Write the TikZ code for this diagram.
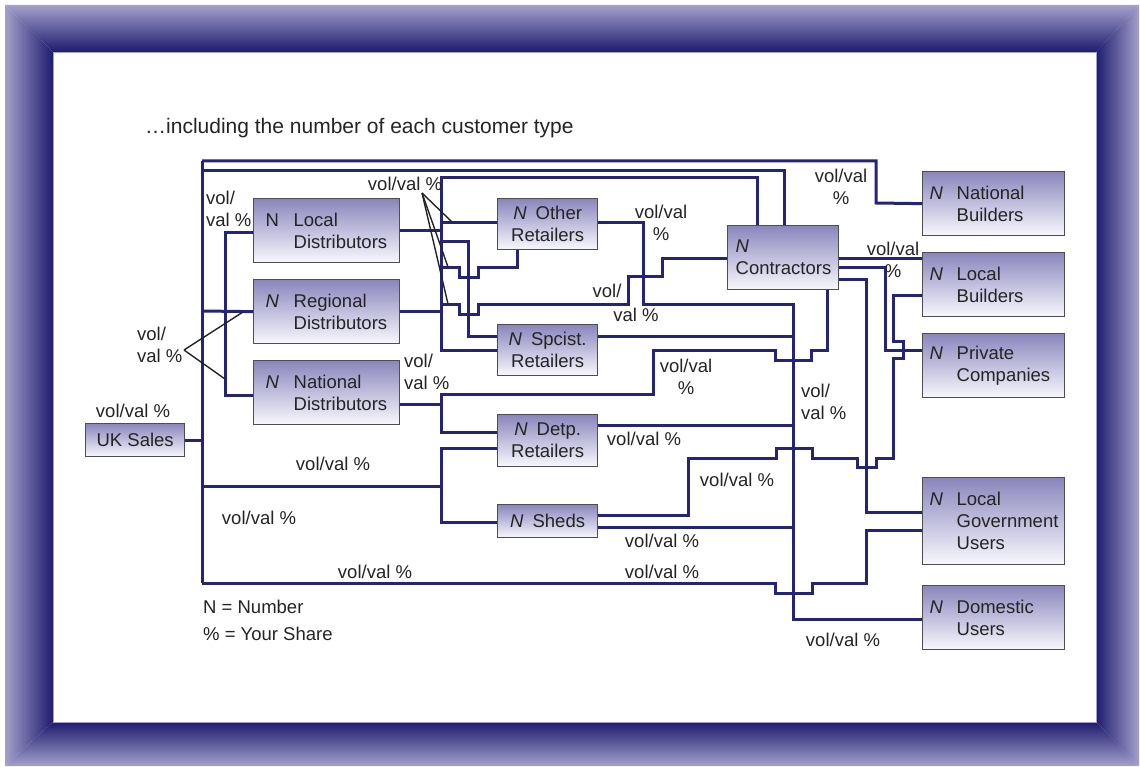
\documentclass[tikz,border=0pt]{standalone}
\usepackage{fontspec}
\setmainfont{Liberation Sans}
\definecolor{frL}{RGB}{164,160,204}
\definecolor{frD}{RGB}{30,28,110}
\definecolor{lineBlue}{RGB}{36,36,120}
\definecolor{boxTop}{RGB}{138,134,188}
\definecolor{boxBot}{RGB}{248,248,253}
\definecolor{boxEdge}{RGB}{78,78,82}
\definecolor{txt}{RGB}{36,36,36}
\newcommand\dfont{\fontsize{18.5}{22}\selectfont}
\newcommand\Ni{\textit{N}}
\tikzset{
  conn/.style={draw=lineBlue, line width=3pt},
  lead/.style={draw=txt, line width=1.4pt},
  card/.style={draw=boxEdge, line width=1.3pt, top color=boxTop, bottom color=boxBot,
    inner sep=0pt, text=txt, font=\dfont, anchor=north west},
  cardL/.style={card, align=left},
  cardC/.style={card, align=center},
  lab/.style={text=txt, font=\dfont, inner sep=0pt},
}
\begin{document}
\begin{tikzpicture}[x=1pt, y=-1pt]
\fill[white] (0,0) rectangle (1140,767);
\useasboundingbox (0,0) rectangle (1140,767);

% bevelled frame
\shade[top color=frL, bottom color=frD] (5,5) -- (1139,5) -- (1096,52) -- (53,52) -- cycle;
\shade[top color=frD, bottom color=frL] (53,722) -- (1096,722) -- (1139,766) -- (5,766) -- cycle;
\shade[left color=frL, right color=frD] (5,5) -- (53,52) -- (53,722) -- (5,766) -- cycle;
\shade[left color=frD, right color=frL] (1096,52) -- (1139,5) -- (1139,766) -- (1096,722) -- cycle;
\filldraw[fill=white, draw=frL, line width=0.8pt] (53,52) rectangle (1096,722);

% title and legend
\node[lab, anchor=west, font=\fontsize{21}{25}\selectfont] (title) at (145,128)
  {\ldots including the number of each customer type};
\node[lab, anchor=west] (legN) at (203,607) {N = Number};
\node[lab, anchor=west] (legP) at (203,634) {\% = Your Share};

% customer boxes
\node[card, minimum width=99, minimum height=33, align=center] (uk) at (85,423) {UK Sales};
\node[cardL, minimum width=146, minimum height=64, text width=146] (ld) at (253,198)
  {\hspace*{12pt}\makebox[28pt][l]{N}Local\\\hspace*{40pt}Distributors};
\node[cardL, minimum width=146, minimum height=64, text width=146] (rd) at (253,279)
  {\hspace*{12pt}\makebox[28pt][l]{\Ni}Regional\\\hspace*{40pt}Distributors};
\node[cardL, minimum width=146, minimum height=64, text width=146] (nd) at (253,360)
  {\hspace*{12pt}\makebox[28pt][l]{\Ni}National\\\hspace*{40pt}Distributors};
\node[cardC, minimum width=100, minimum height=51, text width=100] (ot) at (497,198)
  {\Ni\hspace{9pt}Other\\Retailers};
\node[cardC, minimum width=100, minimum height=51, text width=100] (sp) at (497,324)
  {\Ni\hspace{9pt}Spcist.\\Retailers};
\node[cardC, minimum width=100, minimum height=52, text width=100] (de) at (497,414)
  {\Ni\hspace{9pt}Detp.\\Retailers};
\node[cardC, minimum width=100, minimum height=33, text width=100] (sh) at (497,504)
  {\Ni\hspace{9pt}Sheds};
\node[cardL, minimum width=111, minimum height=64, text width=111] (co) at (727,225)
  {\hspace*{8pt}\Ni\\\hspace*{8pt}Contractors};
\node[cardL, minimum width=142, minimum height=64, text width=142] (nb) at (922,171)
  {\hspace*{7pt}\makebox[27pt][l]{\Ni}National\\\hspace*{34pt}Builders};
\node[cardL, minimum width=142, minimum height=64, text width=142] (lb) at (922,252)
  {\hspace*{7pt}\makebox[27pt][l]{\Ni}Local\\\hspace*{34pt}Builders};
\node[cardL, minimum width=142, minimum height=64, text width=142] (pc) at (922,333)
  {\hspace*{7pt}\makebox[27pt][l]{\Ni}Private\\\hspace*{34pt}Companies};
\node[cardL, minimum width=142, minimum height=87, text width=142] (lg) at (922,477)
  {\hspace*{7pt}\makebox[27pt][l]{\Ni}Local\\\hspace*{34pt}Government\\\hspace*{34pt}Users};
\node[cardL, minimum width=142, minimum height=64, text width=142] (du) at (922,585)
  {\hspace*{7pt}\makebox[27pt][l]{\Ni}Domestic\\\hspace*{34pt}Users};

% trunk from UK Sales
\coordinate (tTop) at (202,161);
\coordinate (tBot) at (202,583);
\draw[conn] (tTop) -- (tBot);
\draw[conn] (uk.east) -- (uk.east -| tTop);
\draw[conn] (tTop) -- (876,161) -- (876,203) -- (nb.west);
\draw[conn] (202,171) -- (784,171) -- (co.north -| 784,0);
\draw[conn] (202,311) -- (rd.west);
\draw[conn] (ld.west |- 0,233) -- (225,233) -- (225,395) -- (nd.west |- 0,395);

% distributors to retailers and contractors
\draw[conn] (ld.east) -- (ld.east -| 441,0);
\draw[conn] (rd.east) -- (rd.east -| 441,0);
\draw[conn] (co.north -| 757,0) -- (757,178) -- (441,178) -- (441,350) -- (sp.west |- 0,350);
\draw[conn] (441,223) -- (ot.west |- 0,223);
\draw[conn] (441,242) -- (468,242) -- (468,336) -- (sp.west |- 0,336);
\draw[conn] (441,268) -- (459,268) -- (459,278) -- (478,278) -- (478,268) -- (517,268) -- (ot.south -| 517,0);
\draw[conn] (441,304) -- (459,304) -- (459,314) -- (478,314) -- (478,304) -- (628,304) -- (628,277)
  -- (662,277) -- (662,259) -- (co.west |- 0,259);
\draw[conn] (nd.east |- 0,404) -- (441,404);
\draw[conn] (de.west |- 0,432) -- (441,432) -- (441,394) -- (653,394) -- (653,350) -- (775,350)
  -- (775,360) -- (811,360) -- (811,350) -- (827,350) -- (co.south -| 827,0);
\draw[conn] (202,486) -- (441,486);
\draw[conn] (de.west |- 0,448) -- (441,448) -- (441,522) -- (sh.west |- 0,522);

% retailers to end users
\draw[conn] (ot.east |- 0,223) -- (643,223) -- (643,304) -- (793,304) -- (793,619) -- (du.west |- 0,619);
\draw[conn] (sp.east |- 0,336) -- (793,336);
\draw[conn] (de.east |- 0,425) -- (793,425);
\draw[conn] (sh.east |- 0,527) -- (793,527);
\draw[conn] (sh.east |- 0,515) -- (688,515) -- (688,458) -- (776,458) -- (776,448) -- (812,448)
  -- (812,458) -- (857,458) -- (857,467) -- (876,467) -- (876,458) -- (893,458) -- (893,358)
  -- (903,358) -- (903,341) -- (893,341) -- (893,295) -- (lb.west |- 0,295);

% contractors to builders and users
\draw[conn] (co.east |- 0,259) -- (lb.west |- 0,259);
\draw[conn] (co.east |- 0,268) -- (885,268) -- (885,350) -- (pc.west |- 0,350);
\draw[conn] (co.east |- 0,280) -- (866,280) -- (866,512) -- (lg.west |- 0,512);
\draw[conn] (tBot) -- (775,583) -- (775,593) -- (812,593) -- (812,583) -- (866,583) -- (866,530)
  -- (lg.west |- 0,530);

% volume / value labels
\node[lab] (v1) at (133,411) {vol/val \%};
\node[lab, align=left, anchor=west] (v2) at (206,209) {vol/\\val \%};
\node[lab, align=left, anchor=west] (v3) at (137,345) {vol/\\val \%};
\node[lab] (v4) at (405,184) {vol/val \%};
\node[lab, align=center] (v5) at (661,223) {vol/val\\\%};
\node[lab] (v6a) at (607,291) {vol/};
\node[lab] (v6b) at (636,315) {val \%};
\node[lab, align=left, anchor=west] (v7) at (404,372) {vol/\\val \%};
\node[lab, align=center] (v8) at (686,377) {vol/val\\\%};
\node[lab] (v9) at (333,464) {vol/val \%};
\node[lab] (v10) at (259,518) {vol/val \%};
\node[lab] (v11) at (375,572) {vol/val \%};
\node[lab] (v12) at (644,439) {vol/val \%};
\node[lab] (v13) at (737,480) {vol/val \%};
\node[lab] (v14) at (662,541) {vol/val \%};
\node[lab] (v15) at (662,572) {vol/val \%};
\node[lab] (v16) at (843,640) {vol/val \%};
\node[lab, align=left, anchor=west] (v17) at (801,402) {vol/\\val \%};
\node[lab, align=center] (v18) at (841,187) {vol/val\\\%};
\node[lab, align=center] (v19) at (893,260) {vol/val\\\%};

% leader lines from the shared labels
\coordinate (a3) at (184,350);
\draw[lead] (a3) -- (243,312);
\draw[lead] (a3) -- (225,379);
\coordinate (a4) at (422,193);
\draw[lead] (a4) -- (452,222);
\draw[lead] (a4) -- (448,267);
\draw[lead] (a4) -- (448,304);
\end{tikzpicture}
\end{document}
